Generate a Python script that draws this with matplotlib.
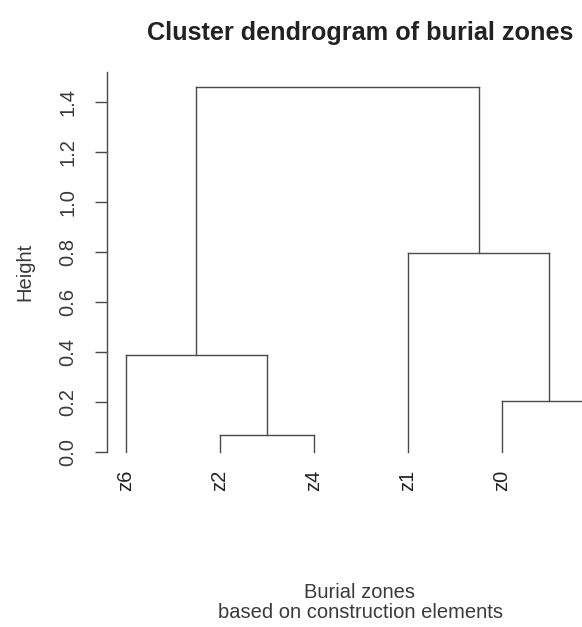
import matplotlib.pyplot as plt

plt.rcParams["font.family"] = ["Liberation Sans", "DejaVu Sans"]

# leaf order as drawn (last leaf falls past the right edge of the picture)
leaves = ["z6", "z2", "z4", "z1", "z0", "z5"]

# merges: (left node, right node, height); m1.. are earlier merges
merge_left = ["z2", "z0", "z6", "z1", "m3"]
merge_right = ["z4", "z5", "m1", "m2", "m4"]
merge_height = [0.068, 0.205, 0.389, 0.797, 1.459]

y_ticks = [0.0, 0.2, 0.4, 0.6, 0.8, 1.0, 1.2, 1.4]

W, H = 582, 627
fig = plt.figure(figsize=(W / 100, H / 100), dpi=100)
ax = fig.add_axes([107 / W, (H - 467) / H, (615 - 107) / W, (467 - 72) / H])

line_kw = dict(color="#4a4a4a", lw=1.0)

pos = {name: i + 1 for i, name in enumerate(leaves)}
top = {name: 0.0 for name in leaves}

for k, (a, b, h) in enumerate(zip(merge_left, merge_right, merge_height)):
    xa, xb = pos[a], pos[b]
    ax.plot([xa, xa], [top[a], h], **line_kw)
    ax.plot([xb, xb], [top[b], h], **line_kw)
    ax.plot([xa, xb], [h, h], **line_kw)
    name = f"m{k + 1}"
    pos[name] = (xa + xb) / 2
    top[name] = h

ax.set_xlim(0.8, 6.2)
ax.set_ylim(-0.06, 1.52)

for s in ["top", "right", "bottom"]:
    ax.spines[s].set_visible(False)
ax.spines["left"].set_bounds(0, 1.52)
ax.spines["left"].set_color("#4a4a4a")
ax.spines["left"].set_linewidth(1.0)

ax.set_yticks(y_ticks)
ax.set_yticklabels([f"{v:.1f}" for v in y_ticks], rotation=90, va="center",
                   fontsize=14.5, color="#3a3a3a")
ax.tick_params(axis="y", length=8.6, width=1.0, pad=13, color="#4a4a4a")

ax.set_xticks([])
for name in leaves:
    ax.text(pos[name], -0.072, name, rotation=90, ha="center", va="top",
            fontsize=14.5, color="#222222")

fig.text(360 / W, 1 - 33 / H, "Cluster dendrogram of burial zones",
         ha="center", va="center", fontsize=18.2, fontweight="bold", color="#222222")
fig.text(25 / W, 1 - 272 / H, "Height", rotation=90, ha="center", va="center",
         fontsize=14.5, color="#3a3a3a")
fig.text(360 / W, 1 - 592 / H, "Burial zones", ha="center", va="center",
         fontsize=14.5, color="#3a3a3a")
fig.text(360 / W, 1 - 613 / H, "based on construction elements", ha="center",
         va="center", fontsize=14.5, color="#3a3a3a")

fig.savefig("out.png", dpi=100)
